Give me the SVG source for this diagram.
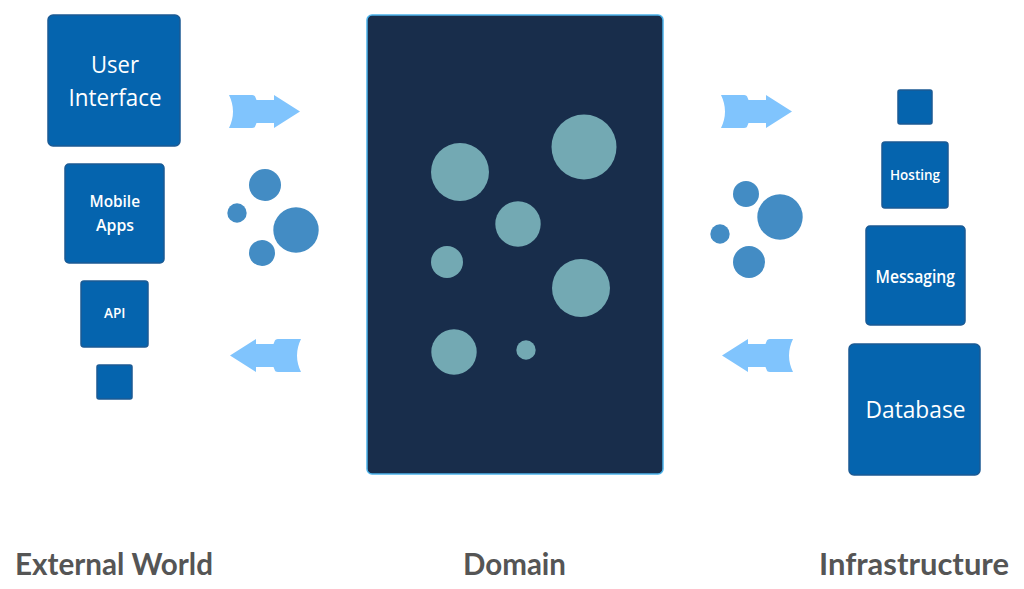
<svg xmlns="http://www.w3.org/2000/svg" width="1024" height="589" viewBox="0 0 1024 589">
<style>
.box{fill:#0564AE;stroke:#1B5A94;stroke-width:1.5}
.bt{fill:#ffffff;font-family:"Open Sans","Noto Sans",sans-serif;font-weight:600}
.bt.reg{font-weight:normal}
.lbl{fill:#555555;font-family:Lato,"Open Sans",sans-serif;font-weight:bold;font-size:30px}
.bub{fill:#438CC4}
.dc{fill:#73A9B3}
.arr{fill:#80C4FD}
</style>
<defs>
<path id="arrowR" d="M0,0 L23,0 Q26,0 26.5,2.5 L27.5,5 L45,5 L45,0 L71,16.5 L45,33 L45,28 L27.5,28 L26.5,30.5 Q26,33 23,33 L0,33 Q8,16.5 0,0 Z"/>
</defs>

<g id="connectors">
<use href="#arrowR" class="arr" transform="translate(229,95)"/>
<use href="#arrowR" class="arr" transform="translate(301,339) scale(-1,1)"/>
<use href="#arrowR" class="arr" transform="translate(721,95)"/>
<use href="#arrowR" class="arr" transform="translate(793,339) scale(-1,1)"/>
</g>

<g id="user-interface">
<rect class="box" x="48" y="15" width="132" height="131" rx="5"/>
<text class="bt reg" x="91" y="73" font-size="24" textLength="48" lengthAdjust="spacingAndGlyphs">User</text>
<text class="bt reg" x="68.5" y="106" font-size="24" textLength="93" lengthAdjust="spacingAndGlyphs">Interface</text>
</g>
<g id="mobile-apps">
<rect class="box" x="65" y="164" width="99" height="99" rx="4"/>
<text class="bt" x="89.5" y="207" font-size="16" textLength="50.5" lengthAdjust="spacingAndGlyphs">Mobile</text>
<text class="bt" x="96" y="231" font-size="16" textLength="38" lengthAdjust="spacingAndGlyphs">Apps</text>
</g>
<g id="api">
<rect class="box" x="81" y="281" width="67" height="66" rx="3"/>
<text class="bt" x="104" y="318" font-size="14" textLength="21.5" lengthAdjust="spacingAndGlyphs">API</text>
</g>
<g id="left-small">
<rect class="box" x="97" y="365" width="35" height="34" rx="2"/>
</g>

<g id="bubbles-left">
<circle class="bub" cx="265" cy="185" r="16"/>
<circle class="bub" cx="237" cy="213" r="9.7"/>
<circle class="bub" cx="296" cy="230" r="22.7"/>
<circle class="bub" cx="262" cy="253" r="13"/>
</g>

<g id="domain">
<rect x="367" y="15" width="296" height="459" rx="5" fill="#182D4B" stroke="#4CB3EA" stroke-width="1.5"/>
<circle class="dc" cx="460" cy="172" r="29"/>
<circle class="dc" cx="584" cy="147" r="32.5"/>
<circle class="dc" cx="518" cy="224" r="22.7"/>
<circle class="dc" cx="447" cy="262" r="16"/>
<circle class="dc" cx="581" cy="288" r="29"/>
<circle class="dc" cx="454" cy="352" r="22.7"/>
<circle class="dc" cx="526" cy="350" r="9.7"/>
</g>

<g id="bubbles-right">
<circle class="bub" cx="746" cy="194" r="13"/>
<circle class="bub" cx="780" cy="217" r="22.7"/>
<circle class="bub" cx="720" cy="234" r="9.7"/>
<circle class="bub" cx="749" cy="262" r="16"/>
</g>

<g id="right-small">
<rect class="box" x="898" y="90" width="34" height="34" rx="2"/>
</g>
<g id="hosting">
<rect class="box" x="882" y="142" width="66" height="66" rx="3"/>
<text class="bt" x="890" y="180" font-size="15" textLength="50" lengthAdjust="spacingAndGlyphs">Hosting</text>
</g>
<g id="messaging">
<rect class="box" x="866" y="226" width="99" height="99" rx="4"/>
<text class="bt" x="875.5" y="283" font-size="18" textLength="79.5" lengthAdjust="spacingAndGlyphs">Messaging</text>
</g>
<g id="database">
<rect class="box" x="849" y="344" width="131" height="131" rx="5"/>
<text class="bt reg" x="865.5" y="417.5" font-size="24" textLength="100" lengthAdjust="spacingAndGlyphs">Database</text>
</g>

<g id="labels">
<text class="lbl" x="15" y="575" textLength="198" lengthAdjust="spacingAndGlyphs">External World</text>
<text class="lbl" x="463" y="575" textLength="103" lengthAdjust="spacingAndGlyphs">Domain</text>
<text class="lbl" x="819" y="575" textLength="190" lengthAdjust="spacingAndGlyphs">Infrastructure</text>
</g>
</svg>
